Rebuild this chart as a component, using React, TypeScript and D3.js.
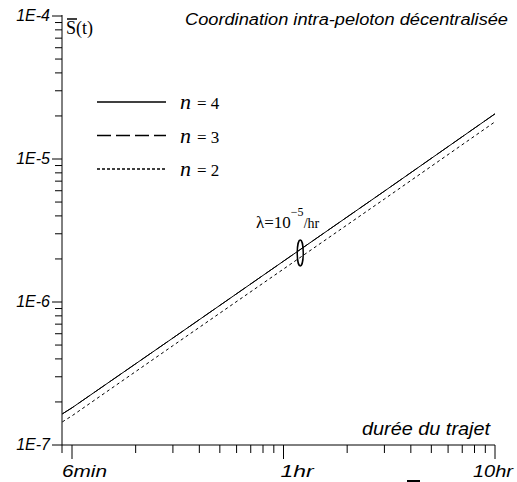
import React from "react";
import * as d3 from "d3";

const hours = [0.09, 0.1, 0.3, 1, 3, 10];
const n4 = [1.65e-7, 1.82e-7, 5.6e-7, 1.93e-6, 5.96e-6, 2.07e-5];
const n3 = [1.65e-7, 1.82e-7, 5.6e-7, 1.93e-6, 5.96e-6, 2.07e-5];
const n2 = [1.45e-7, 1.6e-7, 4.95e-7, 1.7e-6, 5.25e-6, 1.82e-5];
const xTicks = [0.1, 1, 10];
const xTickLabels = ["6min", "1hr", "10hr"];
const yTicks = [1e-7, 1e-6, 1e-5, 1e-4];
const yTickLabels = ["1E-7", "1E-6", "1E-5", "1E-4"];
const seriesNames = ["n = 4", "n = 3", "n = 2"];

const SANS = "'Liberation Sans', Arial, sans-serif";
const SERIF = "'Liberation Serif', 'Times New Roman', serif";

export default function App() {
  const x = d3.scaleLog().domain([0.1, 10]).range([72, 495]);
  const y = d3.scaleLog().domain([1e-7, 1e-4]).range([445, 16]);
  const axisX = 62;
  const axisY = y(1e-7);

  const line = d3
    .line<number>()
    .x((_, i) => x(hours[i]))
    .y((d) => y(d));

  const series = [
    { vals: n3, dash: "14,5" },
    { vals: n2, dash: "3,3" },
    { vals: n4, dash: "none" },
  ];
  const legend = [
    { name: seriesNames[0], dash: "none" },
    { name: seriesNames[1], dash: "14,5" },
    { name: seriesNames[2], dash: "3,2" },
  ];

  const xMinor: number[] = [];
  for (let d = 0.1; d < 10; d *= 10) {
    for (let k = 2; k <= 9; k++) xMinor.push(d * k);
  }
  const yMinor: number[] = [];
  for (let d = 1e-7; d < 1e-4 * 0.99; d *= 10) {
    for (let k = 2; k <= 9; k++) yMinor.push(d * k);
  }
  const xLabelLen = [45, 33, 40];

  return (
    <svg
      width={517}
      height={482}
      style={{ position: "absolute", left: 0, top: 0, background: "#fff" }}
    >
      <rect x={0} y={0} width={517} height={482} fill="#fff" />
      <line x1={axisX} x2={axisX} y1={y(1e-4) - 1} y2={axisY + 8} stroke="#000" strokeWidth={1} />
      <line x1={axisX} x2={x(10)} y1={axisY} y2={axisY} stroke="#000" strokeWidth={1} />
      {yTicks.map((t, i) => (
        <g key={"yt" + i}>
          <line x1={axisX - 10} x2={axisX} y1={y(t)} y2={y(t)} stroke="#000" />
          <text
            x={axisX - 12}
            y={y(t) + 5}
            textAnchor="end"
            fontFamily={SANS}
            fontStyle="italic"
            fontSize={16}
          >
            {yTickLabels[i]}
          </text>
        </g>
      ))}
      {yMinor.map((t, i) => (
        <line key={"ym" + i} x1={axisX - 7} x2={axisX} y1={y(t)} y2={y(t)} stroke="#000" />
      ))}
      {xTicks.map((t, i) => (
        <g key={"xt" + i}>
          <line x1={x(t)} x2={x(t)} y1={axisY} y2={axisY + 14} stroke="#000" />
          <text
            x={i === 2 ? x(t) - 22 : x(t) + (i === 0 ? -10 : -3)}
            y={477}
            fontFamily={SANS}
            fontStyle="italic"
            fontSize={17}
            textLength={xLabelLen[i]}
            lengthAdjust="spacingAndGlyphs"
          >
            {xTickLabels[i]}
          </text>
        </g>
      ))}
      {xMinor.map((t, i) => (
        <line key={"xm" + i} x1={x(t)} x2={x(t)} y1={axisY} y2={axisY + 8} stroke="#000" />
      ))}

      {series.map((s, i) => (
        <path
          key={"s" + i}
          d={line(s.vals) || ""}
          fill="none"
          stroke="#000"
          strokeWidth={1}
          strokeDasharray={s.dash}
        />
      ))}

      {legend.map((l, i) => (
        <g key={"lg" + i} transform={`translate(0, ${102 + i * 33.5})`}>
          <line x1={97} x2={166} y1={0} y2={0} stroke="#000" strokeWidth={1.5} strokeDasharray={l.dash} />
          <text x={180} y={7} fontFamily={SERIF} fontSize={17}>
            <tspan fontStyle="italic" fontSize={22}>n</tspan>
            <tspan dx={6}>{"= " + l.name.split("= ")[1]}</tspan>
          </text>
        </g>
      ))}

      <text x={66} y={34} fontFamily={SERIF} fontSize={18}>S(t)</text>
      <line x1={67} x2={77} y1={19} y2={19} stroke="#000" strokeWidth={1.5} />

      <text
        x={185}
        y={25}
        fontFamily={SANS}
        fontStyle="italic"
        fontSize={16}
        textLength={323}
        lengthAdjust="spacingAndGlyphs"
      >
        Coordination intra-peloton décentralisée
      </text>
      <text
        x={362}
        y={435}
        fontFamily={SANS}
        fontStyle="italic"
        fontSize={18}
        textLength={128}
        lengthAdjust="spacingAndGlyphs"
      >
        durée du trajet
      </text>

      <text x={256} y={228} fontFamily={SERIF} fontSize={17}>
        λ=10
        <tspan dx={0} dy={-12} fontSize={12}>−5</tspan>
        <tspan dy={12} fontSize={14}>/hr</tspan>
      </text>
      <ellipse cx={x(1.2)} cy={y(2.2e-6)} rx={3} ry={13} fill="none" stroke="#000" strokeWidth={1.5} />

      <line x1={407} x2={420} y1={481} y2={481} stroke="#000" strokeWidth={2} />
    </svg>
  );
}
